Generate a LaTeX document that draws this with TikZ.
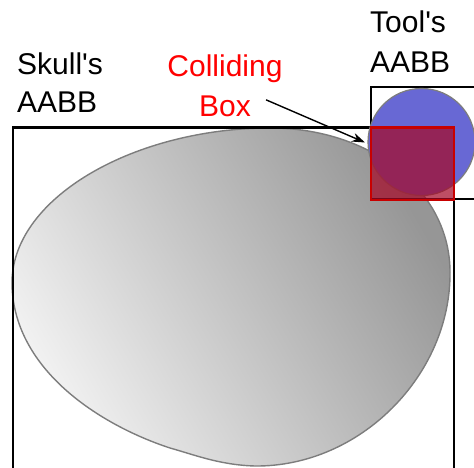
\documentclass[tikz,border=0pt]{standalone}
\usepackage{fontspec}
\setmainfont{Liberation Sans}
\usetikzlibrary{arrows.meta,calc}
\definecolor{toolblue}{RGB}{104,104,212}
\definecolor{boxred}{RGB}{200,0,0}
\definecolor{boxfill}{RGB}{165,10,40}
\definecolor{skullline}{RGB}{125,125,125}
\tikzset{
  label/.style={font=\fontsize{30}{38}\selectfont, inner sep=0pt, anchor=base west},
  aabb/.style={draw=black, line width=2.4pt},
}
\begin{document}
\begin{tikzpicture}[x=1pt,y=-1pt]
\useasboundingbox (0,0) rectangle (474,468);
\clip (0,0) rectangle (474,468);

% skull outline with gradient fill
\shade[draw=skullline, line width=1.4pt, top color={rgb,255:red,150;green,150;blue,150},
       bottom color={rgb,255:red,242;green,242;blue,242}, shading angle=-60]
  (12,285) .. controls (10,200) and (130,130) .. (265,128)
  .. controls (370,126) and (450,190) .. (450,272)
  .. controls (451,375) and (360,467) .. (255,466)
  .. controls (220,465) and (195,455) .. (170,448)
  .. controls (100,425) and (14,370) .. (12,285) -- cycle;

% skull bounding box
\node[aabb, inner sep=0pt, minimum width=441pt, minimum height=360pt, anchor=north west] (skullbox) at (11.5,126.5) {};

% tool and its bounding box
\node[aabb, inner sep=0pt, minimum width=120pt, minimum height=112pt, anchor=north west] (toolbox) at (370,86) {};
\node[circle, fill=toolblue, draw=skullline, line width=1.2pt, minimum size=107pt, inner sep=0pt] (tool) at (421.5,142) {};

% overlap box
\node[draw=boxred, fill=boxfill, fill opacity=0.72, line width=2.4pt, inner sep=0pt,
      minimum width=83pt, minimum height=72pt, anchor=north west] (cbox) at (370,126.5) {};

% labels
\node[label] (skull1) at (17,75) {Skull\textquotesingle s};
\node[label] (skull2) at (17,113) {AABB};
\node[label] (tool1) at (370,33) {Tool\textquotesingle s};
\node[label] (tool2) at (370,73) {AABB};
\node[label, text=red, anchor=base] (coll1) at (225,77) {Colliding};
\node[label, text=red, anchor=base] (coll2) at (225,117) {Box};

% pointer from the label to the overlap box
\coordinate (arrstart) at ($(coll2.east)+(15,-7)$);
\coordinate (arrtip) at ($(cbox.north west)+(-5,16)$);
\draw[line width=1.4pt, -{Stealth[length=13pt,width=9pt]}] (arrstart) -- (arrtip);
\end{tikzpicture}
\end{document}
